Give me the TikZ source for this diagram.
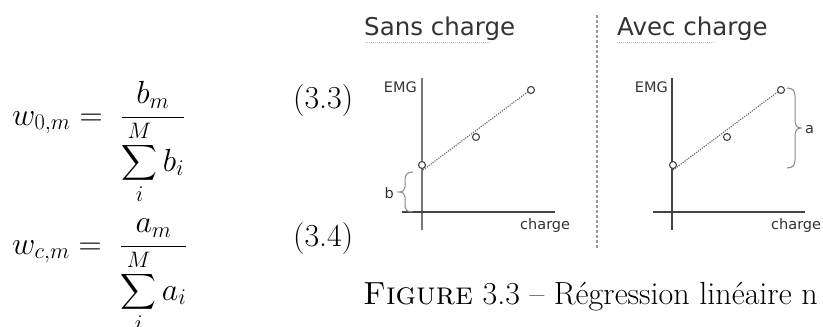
\RequirePackage{fix-cm}
\documentclass[tikz,border=0pt]{standalone}
\usepackage{amsmath}
\usepackage{fontspec}
\newfontfamily\djv{DejaVu Sans}
\definecolor{txtgrey}{HTML}{333333}
\definecolor{axisgrey}{HTML}{444444}
\definecolor{lightaxis}{HTML}{777777}
\definecolor{dotgrey}{HTML}{666666}
\definecolor{bracegrey}{HTML}{888888}
\definecolor{sepgrey}{HTML}{999999}
\definecolor{ulgrey}{HTML}{BBBBBB}
\tikzset{
  mathtxt/.style={font=\fontsize{32}{38}\selectfont, inner sep=0pt, anchor=base west},
  title/.style={font=\djv\fontsize{24.5}{29}\selectfont, text=txtgrey, inner sep=0pt, anchor=base west},
  small/.style={font=\djv\fontsize{14.5}{17}\selectfont, text=txtgrey, inner sep=0pt},
  axisline/.style={draw=axisgrey, line width=1.4pt},
  fitline/.style={draw=dotgrey, line width=1.1pt, dash pattern=on 1.2pt off 1.2pt},
  datapt/.style={circle, draw=axisgrey, fill=white, line width=1.1pt, minimum size=7pt, inner sep=0pt},
  bracestyle/.style={draw=bracegrey, line width=1pt},
  underl/.style={draw=ulgrey, line width=1pt, dash pattern=on 1pt off 1pt},
  sepline/.style={draw=sepgrey, line width=1.8pt, dash pattern=on 3pt off 2pt}
}
\begin{document}
\begin{tikzpicture}[x=1pt,y=-1pt]
\useasboundingbox (0,0) rectangle (823,327);
% equations
\node[mathtxt] (eq1) at (12,125) {$\displaystyle w_{0,m} = \;\frac{b_m}{\displaystyle\sum_{i}^{M} b_i}$};
\node[mathtxt] (eq2) at (12,254) {$\displaystyle w_{c,m} = \;\frac{a_m}{\displaystyle\sum_{i}^{M} a_i}$};
\node[mathtxt] (tag1) at (293,108) {(3.3)};
\node[mathtxt] (tag2) at (293,246) {(3.4)};
\node[mathtxt] (cap) at (363,304) {\textsc{Figure} 3.3 -- Régression linéaire n};
% separator
\coordinate (sepT) at (597,15);
\coordinate (sepB) at (597,248);
\draw[sepline] (sepT) -- (sepB);
% ---- left panel
\node[title] (t1) at (364,35) {Sans charge};
\coordinate (u1a) at (365,42); \coordinate (u1b) at (490,42);
\draw[underl] (u1a) -- (u1b);
\coordinate (y1T) at (422,78); \coordinate (y1B) at (422,230);
\coordinate (x1L) at (402,212); \coordinate (x1R) at (555,212);
\draw[axisline, draw=lightaxis] (y1T) -- (y1B);
\draw[axisline] (x1L) -- (x1R);
\node[small, anchor=base east] (emg1) at (417,92) {EMG};
\node[small, anchor=base west] (ch1) at (520,229) {charge};
\coordinate (f1a) at (423,170); \coordinate (f1b) at (533,88);
\draw[fitline] (f1a) -- (f1b);
\node[datapt] (p11) at (422,165) {};
\node[datapt] (p12) at (476,137) {};
\node[datapt] (p13) at (531,90) {};
\draw[bracestyle] (413,172) .. controls (407,172) and (405,175) .. (405,180) -- (405,187) .. controls (405,190) and (403,192) .. (399,192) .. controls (403,192) and (405,194) .. (405,197) -- (405,205) .. controls (405,210) and (407,212) .. (413,212);
\node[small, anchor=base east] (lb) at (394,198) {b};
% ---- right panel
\node[title] (t2) at (617,35) {Avec charge};
\coordinate (u2a) at (617,42); \coordinate (u2b) at (715,42);
\draw[underl] (u2a) -- (u2b);
\coordinate (y2T) at (672,78); \coordinate (y2B) at (672,230);
\coordinate (x2L) at (653,212); \coordinate (x2R) at (805,212);
\draw[axisline] (y2T) -- (y2B);
\draw[axisline] (x2L) -- (x2R);
\node[small, anchor=base east] (emg2) at (668,92) {EMG};
\node[small, anchor=base west] (ch2) at (771,229) {charge};
\coordinate (f2a) at (673,170); \coordinate (f2b) at (783,88);
\draw[fitline] (f2a) -- (f2b);
\node[datapt] (p21) at (673,165) {};
\node[datapt] (p22) at (727,137) {};
\node[datapt] (p23) at (781,90) {};
\draw[bracestyle] (787,88) .. controls (793,88) and (795,91) .. (795,96) -- (795,120) .. controls (795,125) and (797,128) .. (801,128) .. controls (797,128) and (795,131) .. (795,136) -- (795,160) .. controls (795,165) and (793,168) .. (787,168);
\node[small, anchor=base west] (la) at (805,133) {a};
\end{tikzpicture}
\end{document}
